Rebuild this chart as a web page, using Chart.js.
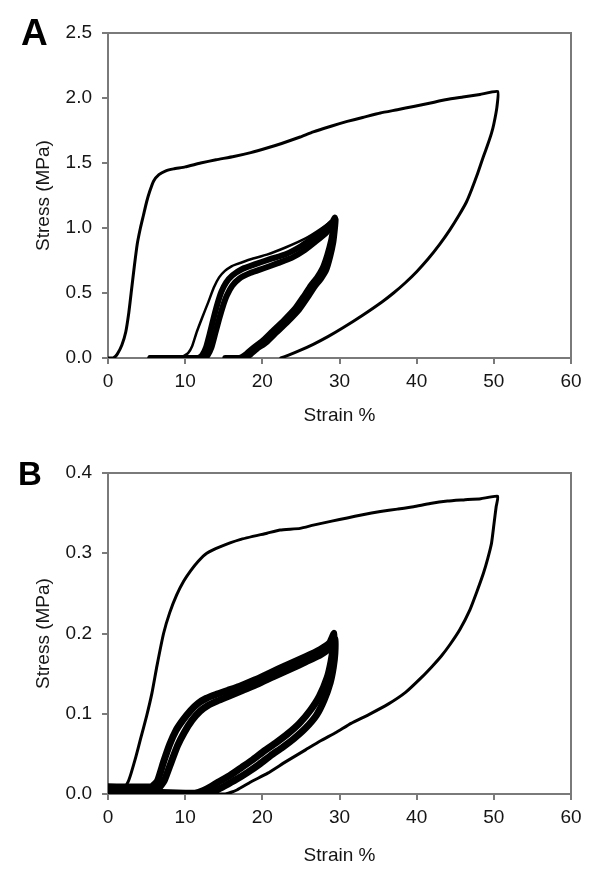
<!DOCTYPE html>
<html>
<head>
<meta charset="utf-8">
<script src="https://cdn.jsdelivr.net/npm/chart.js@4/dist/chart.umd.min.js"></script>
<style>
  html, body { margin: 0; padding: 0; background: #fff; }
  body { width: 600px; height: 883px; position: relative; overflow: hidden; }
  .panel { position: absolute; left: 0; width: 600px; }
  #pa { top: 0; height: 440px; }
  #pb { top: 440px; height: 443px; }
</style>
</head>
<body>
<div class="panel" id="pa"><canvas id="ca" width="600" height="440"></canvas></div>
<div class="panel" id="pb"><canvas id="cb" width="600" height="443"></canvas></div>
<script>
// ---------------- DATA ----------------
// shared axis ticks
const strainTicks = ['0', '10', '20', '30', '40', '50', '60'];
const stressTicksA = ['0.0', '0.5', '1.0', '1.5', '2.0', '2.5'];
const stressTicksB = ['0.0', '0.1', '0.2', '0.3', '0.4'];

// Panel A – first cycle to 50 % strain
const A_c1_strain = [0, 0.7, 1.2, 1.8, 2.3, 2.7, 3.0, 3.4, 3.8, 4.2, 4.6, 5.0, 5.4, 5.9, 6.6, 7.5, 8.5, 10, 12, 14, 16.3, 18.5, 20.6, 22.5, 24.9, 26.6, 29, 31, 33, 35.3, 37.5, 39.6, 41.8, 43.9, 46, 48.2, 50.5,
  50.4, 50.0, 49.7, 49.2, 48.65, 47.9, 47.15, 46.45, 45.5, 44.3, 43.0, 41.5, 40.0, 38.5, 37, 35.5, 33, 30.5, 28.5, 26.6, 24.8, 23.4, 22.4];
const A_c1_stress = [0, 0, 0.03, 0.1, 0.2, 0.35, 0.5, 0.7, 0.88, 1.0, 1.1, 1.2, 1.28, 1.36, 1.41, 1.44, 1.455, 1.47, 1.5, 1.525, 1.55, 1.58, 1.615, 1.65, 1.7, 1.74, 1.785, 1.82, 1.85, 1.885, 1.91, 1.935, 1.962, 1.988, 2.007, 2.027, 2.05,
  1.93, 1.8, 1.73, 1.64, 1.55, 1.42, 1.3, 1.2, 1.10, 0.986, 0.876, 0.763, 0.664, 0.577, 0.50, 0.431, 0.329, 0.234, 0.164, 0.105, 0.056, 0.022, 0];

// Panel A – second cycle to 30 % strain
const A_c2_strain = [5.5, 9.7, 10.4, 10.9, 11.5, 12.2, 13.0, 13.7, 14.4, 15.15, 16.0, 16.6, 18.5, 20.6, 23, 25.6, 27.5, 29.1, 29.45,
  29.3, 29.06, 28.6, 28.1, 27.4, 26.6, 25.6, 24.6, 23.1, 21.6, 20.3, 19.1, 18.3, 17.9, 17.4, 15.5];
const A_c2_stress = [0, 0.013, 0.04, 0.09, 0.2, 0.31, 0.43, 0.54, 0.62, 0.67, 0.705, 0.72, 0.76, 0.795, 0.85, 0.92, 0.99, 1.06, 1.09,
  1.0, 0.90, 0.79, 0.69, 0.62, 0.56, 0.47, 0.385, 0.29, 0.205, 0.13, 0.077, 0.035, 0.013, 0, 0];

// Panel A – later cycles (band)
const A_c3_strain = [5.5, 11.7, 12.2, 12.7, 13.2, 13.7, 14.2, 14.7, 15.3, 16.1, 17.4, 19.0, 21, 23.1, 25, 26.6, 28, 29.1, 29.4,
  29.2, 28.9, 28.4, 27.8, 27.1, 26.3, 25.3, 24.3, 22.8, 21.3, 20.0, 18.8, 18.0, 17.5, 17.0, 15.2];
const A_c3_stress = [0, 0, 0.02, 0.08, 0.19, 0.31, 0.42, 0.51, 0.58, 0.635, 0.685, 0.72, 0.76, 0.80, 0.86, 0.925, 0.99, 1.05, 1.08,
  1.0, 0.90, 0.79, 0.69, 0.62, 0.56, 0.47, 0.385, 0.29, 0.205, 0.13, 0.077, 0.035, 0.013, 0, 0];
const A_c10_strain = [5.5, 12.4, 12.9, 13.4, 13.9, 14.4, 14.9, 15.4, 16.1, 17.0, 18.5, 20.2, 22, 23.8, 25.5, 27, 28.3, 29.2, 29.5,
  29.4, 29.2, 28.8, 28.3, 27.6, 26.8, 25.8, 24.8, 23.3, 21.8, 20.5, 19.3, 18.5, 18.1, 17.6, 15.5];
const A_c10_stress = [0, 0, 0.02, 0.08, 0.19, 0.30, 0.40, 0.48, 0.555, 0.61, 0.655, 0.69, 0.73, 0.77, 0.83, 0.90, 0.965, 1.03, 1.065,
  0.99, 0.89, 0.78, 0.68, 0.61, 0.55, 0.46, 0.375, 0.28, 0.195, 0.12, 0.07, 0.03, 0.01, 0, 0];

// Panel B – first cycle to 50 % strain
const B_c1_strain = [0, 1.6, 2.2, 2.6, 3.0, 3.6, 4.2, 5.0, 5.7, 6.35, 7.2, 8.0, 8.9, 9.8, 10.7, 11.7, 12.8, 14.5, 17.1, 20.6, 22.3, 24.9, 26.6, 29, 31, 33, 35.3, 37.5, 39.6, 41.75, 44, 46.1, 48.3, 50.5,
  50.3, 50.0, 49.7, 49.2, 48.65, 47.8, 46.9, 45.6, 44.3, 43.2, 42.0, 40.6, 38.6, 36.3, 33.8, 31.5, 29.6, 27.5, 25.6, 23, 20.7, 18.5, 16.7, 15.2, 10, 0];
const B_c1_stress = [0.009, 0.009, 0.009, 0.015, 0.026, 0.046, 0.068, 0.097, 0.126, 0.16, 0.2, 0.226, 0.248, 0.265, 0.278, 0.29, 0.30, 0.308, 0.317, 0.325, 0.329, 0.331, 0.335, 0.34, 0.344, 0.348, 0.352, 0.355, 0.358, 0.362, 0.365, 0.3665, 0.368, 0.371,
  0.358, 0.335, 0.3125, 0.293, 0.275, 0.252, 0.2295, 0.205, 0.186, 0.172, 0.159, 0.145, 0.127, 0.112, 0.099, 0.088, 0.077, 0.066, 0.055, 0.04, 0.026, 0.015, 0.005, 0, 0.002, 0.002];

// Panel B – later cycles to 30 % strain (band edges)
const B_c2_strain = [0, 5.6, 6.4, 7.2, 8.0, 8.8, 9.7, 10.7, 11.7, 12.7, 14, 15.5, 17, 19, 21, 23, 25.6, 27.5, 28.7, 29.3,
  29.2, 28.9, 28.4, 27.4, 26.2, 24.8, 23.3, 21.8, 20.3, 18.8, 17.3, 15.8, 14.3, 13.3, 12.3, 11.3, 10, 0];
const B_c2_stress = [0.009, 0.009, 0.016, 0.04, 0.062, 0.079, 0.092, 0.104, 0.113, 0.119, 0.124, 0.129, 0.134, 0.142, 0.151, 0.16, 0.171, 0.18, 0.188, 0.2,
  0.185, 0.165, 0.145, 0.122, 0.104, 0.088, 0.075, 0.064, 0.054, 0.043, 0.033, 0.023, 0.015, 0.009, 0.004, 0.001, 0.001, 0.004];
const B_c20_strain = [0, 6.5, 7.3, 8.2, 9.0, 9.9, 10.9, 11.9, 12.9, 14.2, 15.7, 17.4, 19.4, 21.4, 23.7, 25.7, 27.6, 28.9, 29.4,
  29.4, 29.2, 28.8, 28.0, 27.0, 25.6, 24.1, 22.6, 21.1, 19.6, 18.1, 16.6, 15.1, 14.1, 13.1, 12.4, 0];
const B_c20_stress = [0.006, 0.007, 0.017, 0.04, 0.06, 0.077, 0.092, 0.103, 0.11, 0.116, 0.122, 0.129, 0.137, 0.146, 0.156, 0.165, 0.174, 0.183, 0.193,
  0.175, 0.158, 0.139, 0.117, 0.098, 0.082, 0.069, 0.058, 0.048, 0.037, 0.027, 0.018, 0.01, 0.005, 0.001, 0, 0.001];

// ---------------- RENDER ----------------
const FONT = '"Liberation Sans", Arial, Helvetica, sans-serif';
const FS = 19;
const AXIS = '#7a7a7a';
const TXT = '#151515';

function pts(xs, ys) { return xs.map((x, i) => ({ x: x, y: ys[i] })); }

function ds(label, xs, ys, w) {
  return { label: label, data: pts(xs, ys), borderColor: '#000', borderWidth: w,
    pointRadius: 0, tension: 0.15, fill: false, borderJoinStyle: 'round', borderCapStyle: 'round' };
}

const framePlugin = {
  id: 'frame',
  beforeDatasetsDraw(chart) {
    const { ctx, chartArea: a } = chart;
    ctx.save();
    ctx.strokeStyle = AXIS; ctx.lineWidth = 2;
    ctx.beginPath();
    ctx.moveTo(a.left, a.top); ctx.lineTo(a.right, a.top); ctx.lineTo(a.right, a.bottom);
    ctx.stroke();
    ctx.restore();
  }
};

function letterPlugin(letter, x, y, size) {
  return {
    id: 'letter' + letter,
    afterDraw(chart) {
      const ctx = chart.ctx;
      ctx.save();
      ctx.fillStyle = '#000';
      ctx.font = 'bold ' + size + 'px ' + FONT;
      ctx.textBaseline = 'alphabetic';
      ctx.textAlign = 'left';
      ctx.fillText(letter, x, y);
      ctx.restore();
    }
  };
}

function makeChart(canvasId, H, plotBottom, yMax, yStep, yLabels, datasets, letter, titlePadBottom) {
  return new Chart(document.getElementById(canvasId), {
    type: 'line',
    data: { datasets: datasets },
    options: {
      responsive: false, animation: false, devicePixelRatio: 1,
      layout: { padding: { left: 0, top: 33, right: 29, bottom: 0 } },
      plugins: { legend: { display: false }, tooltip: { enabled: false } },
      scales: {
        x: {
          type: 'linear', min: 0, max: 60,
          afterFit(s) { s.height = H - plotBottom; },
          ticks: { stepSize: 10, color: TXT, padding: 6, font: { family: FONT, size: FS },
                   maxRotation: 0, callback: (v, i) => strainTicks[i] },
          grid: { display: true, drawOnChartArea: false, drawTicks: true, tickLength: 6, color: AXIS, lineWidth: 2 },
          border: { display: true, color: AXIS, width: 2 },
          title: { display: true, text: 'Strain %', color: TXT, font: { family: FONT, size: FS },
                   padding: { top: 0, bottom: titlePadBottom } }
        },
        y: {
          type: 'linear', min: 0, max: yMax,
          afterFit(s) { s.width = 108; },
          ticks: { stepSize: yStep, color: TXT, padding: 10, font: { family: FONT, size: FS },
                   callback: (v, i) => yLabels[i] },
          grid: { display: true, drawOnChartArea: false, drawTicks: true, tickLength: 6, color: AXIS, lineWidth: 2 },
          border: { display: true, color: AXIS, width: 2 },
          title: { display: true, text: 'Stress (MPa)', color: TXT, font: { family: FONT, size: FS },
                   padding: { top: 32, bottom: 0 } }
        }
      }
    },
    plugins: [framePlugin, letter]
  });
}

makeChart('ca', 440, 358, 2.5, 0.5, stressTicksA, [
  ds('Cycle 1', A_c1_strain, A_c1_stress, 3),
  ds('Cycle 2', A_c2_strain, A_c2_stress, 2.5),
  ds('Cycle 3', A_c3_strain, A_c3_stress, 6),
  ds('Cycle 10', A_c10_strain, A_c10_stress, 6)
], letterPlugin('A', 21, 45, 37), 13);

makeChart('cb', 443, 354, 0.4, 0.1, stressTicksB, [
  ds('Cycle 1', B_c1_strain, B_c1_stress, 3),
  ds('Cycle 2', B_c2_strain, B_c2_stress, 7),
  ds('Cycle 20', B_c20_strain, B_c20_stress, 7)
], letterPlugin('B', 18, 45, 33), 16);
</script>
</body>
</html>
